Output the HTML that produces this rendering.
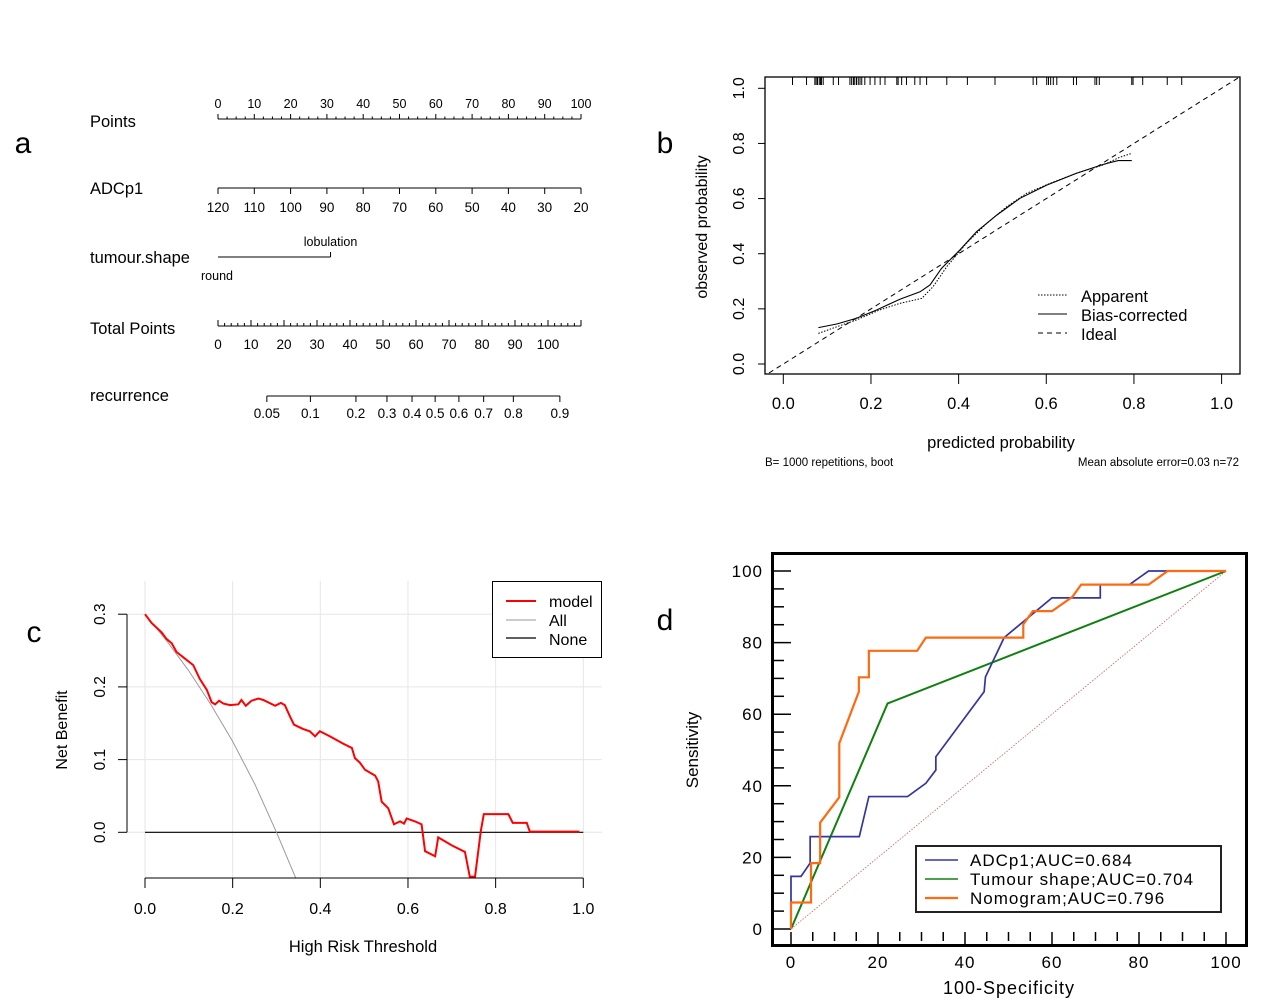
<!DOCTYPE html>
<html><head><meta charset="utf-8"><style>
html,body{margin:0;padding:0;background:#fff;}
svg{display:block;font-family:"Liberation Sans",Arial,sans-serif;}
</style></head><body>
<svg id="fig" width="1279" height="1008" viewBox="0 0 1279 1008">
<g id="pa"></g>
<g id="pb"></g>
<g id="pc"></g>
<g id="pd"></g>
</svg>
<script>
// ---------- Panel a data ----------
const pointsTicks = [0,10,20,30,40,50,60,70,80,90,100];
const adcLabels = [120,110,100,90,80,70,60,50,40,30,20];
const shapeLevels = ["round","lobulation"];
const shapePoints = [0,31];
const totalTicks = [0,10,20,30,40,50,60,70,80,90,100];
const riskLabels = ["0.05","0.1","0.2","0.3","0.4","0.5","0.6","0.7","0.8","0.9"];
const riskTotalPts = [14.8,28,41.8,51.2,58.8,65.8,73,80.5,89.5,103.6];
// ---------- Panel b data ----------
const rugPred = [.021,.053,.072,.075,.078,.082,.085,.087,.091,.114,.126,.152,.156,.16,.163,.167,.171,.175,.179,.186,.198,.209,.221,.232,.259,.262,.27,.281,.3,.312,.327,.373,.42,.483,.57,.578,.601,.605,.61,.616,.624,.662,.669,.711,.715,.721,.795,.798,.82,.876,.909];
const biasX = [.08,.122,.167,.213,.266,.312,.335,.361,.403,.441,.487,.54,.601,.669,.73,.764,.795];
const biasY = [.132,.145,.166,.196,.235,.262,.287,.347,.414,.48,.54,.601,.649,.692,.724,.738,.738];
const appX = [.08,.122,.167,.22,.266,.316,.342,.373,.418,.464,.51,.555,.608,.669,.73,.768,.795];
const appY = [.111,.135,.16,.196,.22,.238,.281,.353,.438,.51,.571,.619,.655,.692,.722,.75,.764];
const calTicks = [0,0.2,0.4,0.6,0.8,1.0];
// ---------- Panel c data ----------
const thrModel = [0,.015,.038,.049,.061,.072,.091,.11,.125,.141,.152,.16,.169,.179,.194,.213,.22,.23,.243,.259,.27,.297,.31,.319,.331,.34,.361,.376,.388,.399,.422,.452,.472,.479,.49,.502,.525,.532,.54,.555,.568,.582,.591,.597,.616,.631,.639,.662,.669,.7,.73,.741,.753,.766,.773,.829,.839,.871,.878,.991];
const nbModel = [.3,.288,.275,.266,.26,.248,.239,.23,.211,.196,.179,.176,.181,.177,.175,.176,.182,.174,.181,.184,.182,.174,.178,.175,.159,.148,.142,.139,.132,.139,.132,.122,.116,.102,.096,.086,.078,.07,.042,.033,.011,.015,.012,.019,.015,.011,-.026,-.033,-.007,-.018,-.027,-.061,-.061,.001,.025,.025,.013,.013,.001,.001];
const thrAll = [0,.05,.1,.15,.2,.25,.3,.344];
const nbAll = [.3,.263,.222,.176,.125,.067,0,-.063];
const dcaXTicks = [0,0.2,0.4,0.6,0.8,1.0];
const dcaYTicks = [0,0.1,0.2,0.3];
// ---------- Panel d data ----------
const adcFpr = [0,0,2.3,4.4,4.4,15.7,17.9,26.8,31,33.3,33.3,44.4,44.7,49,60,71.1,71.1,77.8,82.2,100];
const adcSens = [0,14.7,14.7,18.4,25.8,25.8,37,37,40.7,44.4,48.1,66.3,70.4,81.4,92.5,92.5,96.2,96.2,100,100];
const shapeFpr = [0,22.2,100];
const shapeSens = [0,63,100];
const nomoFpr = [0,0,4.6,4.6,6.7,6.7,11.1,11.1,15.6,15.6,17.9,17.9,29,31,53.4,53.4,55.6,60,64.7,66.7,82.2,86.6,100];
const nomoSens = [0,7.4,7.4,18.4,18.4,29.7,36.8,51.9,66.3,70.3,70.3,77.7,77.7,81.4,81.4,85.1,88.8,88.8,92.8,96.2,96.2,100,100];
const rocTicks = [0,20,40,60,80,100];

const NS="http://www.w3.org/2000/svg";
function mk(parent,tag,attrs,text){const e=document.createElementNS(NS,tag);for(const k in attrs)e.setAttribute(k,attrs[k]);if(text!==undefined)e.textContent=text;parent.appendChild(e);return e;}
function ln(p,x1,y1,x2,y2,st,w,da){return mk(p,'line',{x1,y1,x2,y2,stroke:st||'#000','stroke-width':w||1,'stroke-dasharray':da||'none'});}
function tx(p,x,y,s,size,anchor,extra){const a={x,y,'font-size':size,'text-anchor':anchor||'middle',fill:'#000'};if(extra)for(const k in extra)a[k]=extra[k];return mk(p,'text',a,s);}

// ===== Panel a =====
(function(){
const g=document.getElementById('pa');
let t=tx(g,23,153,'a',30,'middle');

const X=v=>218+v*3.63;
const Xt=v=>218+v*3.3;
const labs=[['Points',127],['ADCp1',194],['tumour.shape',263],['Total Points',334],['recurrence',401]];
labs.forEach(l=>{const e=tx(g,90,l[1],l[0],16.5,'start');});
ln(g,218,119,581,119);
for(let v=0;v<=100;v+=2.5){const maj=v%10===0;ln(g,X(v),119,X(v),maj?114:116.5);}
pointsTicks.forEach(v=>{const e=tx(g,X(v),108,v,12.5);});
ln(g,218,188,581,188);
adcLabels.forEach((v,i)=>{const x=X(i*10);ln(g,x,188,x,194);const e=tx(g,x,212,v,13.5);});
ln(g,X(shapePoints[0]),257,X(shapePoints[1]),257);
ln(g,X(shapePoints[1]),257,X(shapePoints[1]),252);
let e1=tx(g,X(shapePoints[0])-1,280,shapeLevels[0],12.5);
let e2=tx(g,X(shapePoints[1]),246,shapeLevels[1],12.5);
ln(g,218,326,581,326);
for(let v=0;v<=110;v+=2){const maj=v%10===0;ln(g,Xt(v),326,Xt(v),maj?320:323);}
totalTicks.forEach(v=>{const e=tx(g,Xt(v),349,v,13.5);});
ln(g,Xt(riskTotalPts[0]),396,Xt(riskTotalPts[riskTotalPts.length-1]),396);
riskLabels.forEach((s,i)=>{const x=Xt(riskTotalPts[i]);ln(g,x,396,x,402);const e=tx(g,x,418,s,13.5);});
})();

// ===== Panel b =====
(function(){
const g=document.getElementById('pb');
let t=tx(g,665,153,'b',30);
const X=v=>783.3+v*438.3, Y=v=>364-v*275.7;
const box=mk(g,'rect',{x:765,y:77,width:475,height:297,fill:'none',stroke:'#000','stroke-width':1.3});

calTicks.forEach(v=>{
 ln(g,X(v),374,X(v),384);
 const a=tx(g,X(v),409,v.toFixed(1),16.5);
 ln(g,758,Y(v),765,Y(v));
 const b=tx(g,744,Y(v),v.toFixed(1),16,'middle',{transform:`rotate(-90 744 ${Y(v)})`});
});
rugPred.forEach(v=>{const r=ln(g,X(v),77,X(v),85);});
const cl=mk(g,'clipPath',{id:'cb'});mk(cl,'rect',{x:765,y:77,width:475,height:297});
const ideal=mk(g,'line',{x1:X(-0.05),y1:Y(-0.05),x2:X(1.05),y2:Y(1.05),stroke:'#000','stroke-width':1,'stroke-dasharray':'5,4','clip-path':'url(#cb)'});

const bp=mk(g,'polyline',{points:biasX.map((x,i)=>X(x)+','+Y(biasY[i])).join(' '),fill:'none',stroke:'#000','stroke-width':1.1});

const ap=mk(g,'polyline',{points:appX.map((x,i)=>X(x)+','+Y(appY[i])).join(' '),fill:'none',stroke:'#000','stroke-width':1,'stroke-dasharray':'1.5,1.5'});

const lg=mk(g,'g',{});
ln(lg,1038,295,1067,295,'#000',1,'1.5,1.5');tx(lg,1081,302,'Apparent',16.5,'start');
ln(lg,1038,314,1067,314);tx(lg,1081,321,'Bias-corrected',16.5,'start');
ln(lg,1038,333,1067,333,'#000',1,'5,4');tx(lg,1081,340,'Ideal',16.5,'start');
let xt=tx(g,1001,448,'predicted probability',16.5);
let yt=tx(g,707,227,'observed probability',16,'middle',{transform:'rotate(-90 707 227)'});
let f1=tx(g,765,466,'B= 1000 repetitions, boot',11.5,'start');
let f2=tx(g,1239,466,'Mean absolute error=0.03 n=72',11.5,'end');
})();

// ===== Panel c =====
(function(){
const g=document.getElementById('pc');
let t=tx(g,34,642,'c',30);
const X=v=>145+v*438.3, Y=v=>832.3-v*727;
for(let v=0;v<=1.0001;v+=0.2){ln(g,X(v),581,X(v),878,'#e6e6e6',1);}
dcaYTicks.forEach(v=>ln(g,127,Y(v),602,Y(v),'#e6e6e6',1));
const none=ln(g,X(0),Y(0),X(1),Y(0),'#000',1.2);
const all=mk(g,'polyline',{points:thrAll.map((x,i)=>X(x)+','+Y(nbAll[i])).join(' '),fill:'none',stroke:'#9a9a9a','stroke-width':1});

const cl=mk(g,'clipPath',{id:'cc'});mk(cl,'rect',{x:127,y:575,width:480,height:303});
const md=mk(g,'polyline',{points:thrModel.map((x,i)=>X(x)+','+Y(nbModel[i])).join(' '),fill:'none',stroke:'#ff0000','stroke-width':2,'clip-path':'url(#cc)'});

ln(g,127,Y(0),127,Y(0.3));
dcaYTicks.forEach(v=>{ln(g,118,Y(v),127,Y(v));const e=tx(g,105,Y(v),v.toFixed(1),15.5,'middle',{transform:`rotate(-90 105 ${Y(v)})`});});
ln(g,X(0),878,X(1),878);
dcaXTicks.forEach(v=>{ln(g,X(v),878,X(v),888);const e=tx(g,X(v),914,v.toFixed(1),16);});
let xt=tx(g,363,952,'High Risk Threshold',16.5);
let yt=tx(g,67,730,'Net Benefit',16,'middle',{transform:'rotate(-90 67 730)'});
const lg=mk(g,'g',{});
mk(lg,'rect',{x:492.5,y:581.5,width:109,height:76,fill:'#fff',stroke:'#000','stroke-width':1});
ln(lg,506,601,536,601,'#ff0000',2);tx(lg,549,607,'model',16,'start');
ln(lg,506,620,536,620,'#9a9a9a',1);tx(lg,549,626,'All',16,'start');
ln(lg,506,638,536,638,'#000',1.3);tx(lg,549,645,'None',16,'start');
})();

// ===== Panel d =====
(function(){
const g=document.getElementById('pd');
let t=tx(g,665,630,'d',30);
const X=v=>791+v*4.35, Y=v=>929-v*3.58;
const box=mk(g,'rect',{x:772.5,y:553.5,width:474,height:392,fill:'none',stroke:'#000','stroke-width':3});

for(let v=0;v<=100;v+=5){const maj=v%20===0;ln(g,773,Y(v),maj?791:784,Y(v),'#000',1.5);ln(g,X(v),932,X(v),maj?946:941,'#000',1.5);}
rocTicks.forEach(v=>{
 const a=tx(g,763,Y(v)+6,v,17,'end',{'letter-spacing':'1'});
 const b=tx(g,X(v),968,v,17,'middle',{'letter-spacing':'1'});
});
const ref=ln(g,X(0),Y(0),X(100),Y(100),'#c06060',0.8,'1.5,1.5');
const sh=mk(g,'polyline',{points:shapeFpr.map((x,i)=>X(x)+','+Y(shapeSens[i])).join(' '),fill:'none',stroke:'#108010','stroke-width':2});

const ad=mk(g,'polyline',{points:adcFpr.map((x,i)=>X(x)+','+Y(adcSens[i])).join(' '),fill:'none',stroke:'#3535a0','stroke-width':1.7});

const nm=mk(g,'polyline',{points:nomoFpr.map((x,i)=>X(x)+','+Y(nomoSens[i])).join(' '),fill:'none',stroke:'#ff6a10','stroke-width':2.2});

const lg=mk(g,'g',{});
mk(lg,'rect',{x:916,y:846,width:305,height:66,fill:'#fff',stroke:'#222','stroke-width':2});
ln(lg,925,860,958,860,'#3535a0',1.5);tx(lg,970,866,'ADCp1;AUC=0.684',17,'start',{'letter-spacing':'1'});
ln(lg,925,879,958,879,'#108010',1.5);tx(lg,970,885,'Tumour shape;AUC=0.704',17,'start',{'letter-spacing':'1'});
ln(lg,925,898,958,898,'#ff6a10',2.2);tx(lg,970,904,'Nomogram;AUC=0.796',17,'start',{'letter-spacing':'1'});
let xt=tx(g,1009,994,'100-Specificity',18,'middle',{'letter-spacing':'1'});
let yt=tx(g,698,750,'Sensitivity',17,'middle',{transform:'rotate(-90 698 750)'});
})();
</script>
</body></html>
